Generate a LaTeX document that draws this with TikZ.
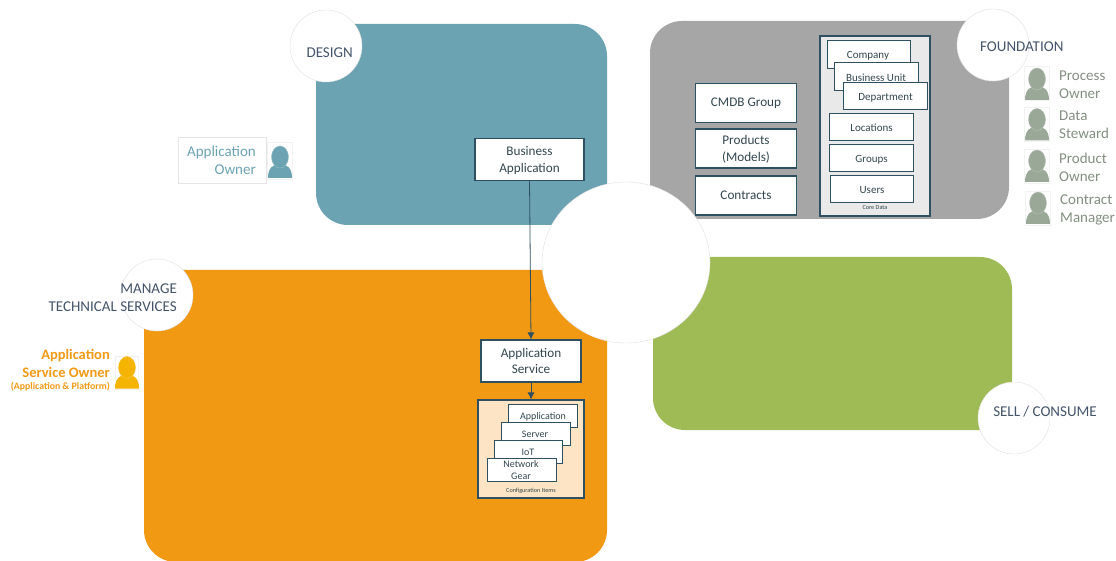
\documentclass[tikz,border=0pt]{standalone}
\usepackage{fontspec}
\setmainfont{Carlito}
\usetikzlibrary{arrows.meta,shapes.geometric}
\definecolor{tealp}{HTML}{6BA3B3}
\definecolor{orangep}{HTML}{F29913}
\definecolor{greenp}{HTML}{9EBB55}
\definecolor{grayp}{HTML}{A6A6A6}
\definecolor{inkc}{HTML}{44546A}
\definecolor{boxline}{HTML}{2F5060}
\definecolor{sagep}{HTML}{9AA898}
\definecolor{goldp}{HTML}{F4B400}
\definecolor{corep}{HTML}{E9E9E9}
\definecolor{cfgp}{HTML}{FCE4C4}
\definecolor{txtc}{HTML}{33474F}
\tikzset{
  x=1pt,y=-1pt,
  panel/.style={rounded corners=32pt,draw=none},
  stage/.style={circle,fill=white,draw=black!12,line width=.4pt,inner sep=0pt,minimum size=72pt},
  stagetext/.style={text=inkc,font=\fontsize{15}{18}\selectfont,align=right,inner sep=0pt},
  itembox/.style={draw=boxline,fill=white,line width=1.1pt,rectangle,inner sep=0pt,align=center,text=txtc,font=\fontsize{13.2}{16.5}\selectfont},
  onelinebox/.style={itembox,text height=11pt,text depth=3pt},
  smallbox/.style={itembox,font=\fontsize{11}{13}\selectfont,text height=10.5pt,text depth=2.5pt},
  grouparea/.style={draw=boxline,line width=1.1pt,rectangle,inner sep=0pt},
  boxlabel/.style={text=txtc,inner sep=0pt,align=center},
  captiontext/.style={text=txtc,font=\fontsize{6.2}{7}\selectfont,inner sep=0pt},
  roletext/.style={font=\fontsize{15}{18}\selectfont,inner sep=0pt},
  faintframe/.style={draw=black!5,line width=.5pt,fill=white,rectangle,inner sep=0pt,anchor=north west},
  flow/.style={draw=boxline,line width=.8pt,-{Latex[length=7pt,width=7pt]}},
  pics/person/.style={code={
    \fill[#1] (-12,16) .. controls (-12,6) and (-7,2) .. (0,2) .. controls (7,2) and (12,6) .. (12,16) -- cycle;
    \draw[#1!70!white,fill=#1,line width=.4pt] (0,-5) ellipse (8.5pt and 11pt);
  }}
}
\begin{document}
\begin{tikzpicture}
\useasboundingbox (0,0) rectangle (1116,561);
\begin{scope}
\clip (0,0) rectangle (1116,561);
\fill[panel,fill=tealp] (316,24) rectangle (607,225);
\fill[panel,fill=grayp] (650,21) rectangle (1009,219);
\fill[panel,fill=orangep] (144,270) rectangle (607,562);
\fill[panel,fill=greenp] (653,257) rectangle (1012,430);
\end{scope}

\node[stage] (design) at (326,46) {};
\node[stage] (foundation) at (993,45) {};
\node[stage] (manage) at (157,295) {};
\node[stage] (sell) at (1014,418) {};
\node[ellipse,fill=white,draw=black!12,line width=.4pt,inner sep=0pt,minimum width=168pt,minimum height=161pt] (hub) at (626,262.5) {};

\node[stagetext,anchor=east] (designt) at (353,53) {DESIGN};
\node[stagetext,anchor=west] (foundationt) at (980,47) {FOUNDATION};
\node[stagetext,anchor=east] (managet) at (177,298) {MANAGE\\TECHNICAL SERVICES};
\node[stagetext,anchor=east] (sellt) at (1097,412) {SELL / CONSUME};

% design
\node[itembox,minimum width=109pt,minimum height=42pt] (bizapp) at (529.5,159.5) {};
\node[boxlabel,font=\fontsize{13.2}{16.5}\selectfont] at (529.5,160.5) {Business\\Application};
% manage
\node[itembox,minimum width=100pt,minimum height=42pt] (appsvc) at (531,361) {};
\node[boxlabel,font=\fontsize{13.2}{16.5}\selectfont] at (531,361) {Application\\Service};
\node[grouparea,fill=cfgp,minimum width=106pt,minimum height=98pt] (cfg) at (531,449) {};
\node[smallbox,minimum width=69pt,minimum height=23pt,anchor=north west] (ciapp) at (508,404) {};
\node[smallbox,minimum width=69pt,minimum height=23pt,anchor=north west] (ciserver) at (501,422) {};
\node[smallbox,minimum width=68pt,minimum height=23pt,anchor=north west] (ciiot) at (494,440) {};
\node[smallbox,minimum width=69pt,minimum height=23pt,anchor=north west] (cinet) at (487,458) {};
\node[boxlabel,font=\fontsize{10}{12}\selectfont] at (543,417) {Application};
\node[boxlabel,font=\fontsize{10}{12}\selectfont] at (535,434) {Server};
\node[boxlabel,font=\fontsize{10}{12}\selectfont] at (528,452) {IoT};
\node[boxlabel,font=\fontsize{10}{12}\selectfont] at (521,470) {Network\\Gear};
\node[captiontext] (cfgcap) at (531,491) {Configuration Items};
\draw[flow] (bizapp.south) -- (appsvc.north);
\draw[flow] (appsvc.south) -- (cfg.north);

% foundation
\node[onelinebox,minimum width=101pt,minimum height=39pt] (cmdb) at (746,103) {CMDB Group};
\node[itembox,minimum width=101pt,minimum height=39pt] (products) at (746,148.5) {};
\node[boxlabel,font=\fontsize{13.2}{16.5}\selectfont] at (746,149.5) {Products\\(Models)};
\node[onelinebox,minimum width=101pt,minimum height=39pt] (contracts) at (746,195.5) {Contracts};
\node[grouparea,fill=corep,minimum width=110pt,minimum height=180pt] (core) at (875,126) {};
\node[smallbox,minimum width=83pt,minimum height=28pt,anchor=north west] (company) at (827,40) {};
\node[boxlabel,font=\fontsize{11}{13}\selectfont] at (868,56) {Company};
\node[smallbox,minimum width=84pt,minimum height=28pt,anchor=north west] (bu) at (834,62) {};
\node[boxlabel,font=\fontsize{11}{13}\selectfont] at (876,78) {Business Unit};
\node[smallbox,minimum width=84pt,minimum height=27pt,anchor=north west] (dept) at (843,82) {Department};
\node[smallbox,minimum width=84pt,minimum height=27pt,anchor=north west] (loc) at (829,113) {Locations};
\node[smallbox,minimum width=84pt,minimum height=27pt,anchor=north west] (groups) at (829,144) {Groups};
\node[smallbox,minimum width=83pt,minimum height=27pt,anchor=north west] (users) at (830,175) {Users};
\node[captiontext] (corecap) at (875,208) {Core Data};

% roles
\node[faintframe,draw=black!10,minimum width=88pt,minimum height=45.5pt] (aoF) at (177.5,137.5) {};
\node[roletext,text=tealp,align=right,anchor=east] (aoT) at (256,160.5) {Application\\Owner};
\node[faintframe,minimum width=25pt,minimum height=37pt] (aoP) at (267,142) {};
\pic at (280,162) {person=tealp};

\node[roletext,text=orangep,align=right,anchor=east,font=\bfseries\fontsize{14.5}{18}\selectfont] (asoT) at (110,363) {Application\\Service Owner};
\node[text=orangep,anchor=east,inner sep=0pt,font=\bfseries\fontsize{9.8}{11}\selectfont] (asoS) at (110,387) {(Application \& Platform)};
\node[faintframe,minimum width=23pt,minimum height=33pt] (asoP) at (115,356) {};
\pic at (127,372.5) {person=goldp};

\node[faintframe,minimum width=25pt,minimum height=34pt] (f1) at (1024,66) {};
\pic at (1037,84) {person=sagep};
\node[roletext,text=sagep!85!black,align=left,anchor=west] (r1) at (1059,84.5) {Process\\Owner};
\node[faintframe,minimum width=25pt,minimum height=34pt] (f2) at (1024,107) {};
\pic at (1037,124.5) {person=sagep};
\node[roletext,text=sagep!85!black,align=left,anchor=west] (r2) at (1059,124.5) {Data\\Steward};
\node[faintframe,minimum width=25pt,minimum height=34pt] (f3) at (1024,149) {};
\pic at (1037,166) {person=sagep};
\node[roletext,text=sagep!85!black,align=left,anchor=west] (r3) at (1059,167) {Product\\Owner};
\node[faintframe,minimum width=25pt,minimum height=34pt] (f4) at (1025,191) {};
\pic at (1038,208) {person=sagep};
\node[roletext,text=sagep!85!black,align=left,anchor=west] (r4) at (1060,209.5) {Contract\\Manager};
\end{tikzpicture}
\end{document}
